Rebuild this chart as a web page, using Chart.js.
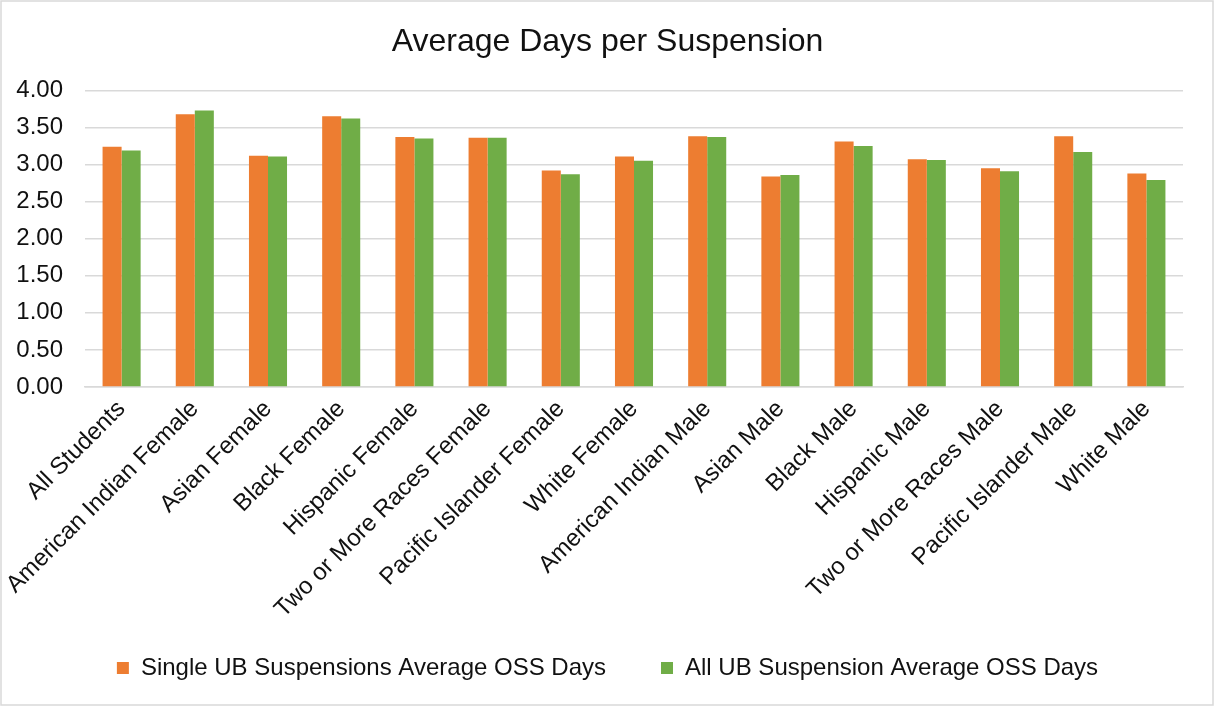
<!DOCTYPE html>
<html>
<head>
<meta charset="utf-8">
<script src="https://cdn.jsdelivr.net/npm/chart.js@4"></script>
<style>
  html, body { margin: 0; padding: 0; background: #fff; }
  #wrap { width: 1215px; height: 706px; }
</style>
</head>
<body>
<div id="wrap"><canvas id="chart"></canvas></div>
<script>
// data
const categories = ['All Students', 'American Indian Female', 'Asian Female', 'Black Female',
  'Hispanic Female', 'Two or More Races Female', 'Pacific Islander Female', 'White Female',
  'American Indian Male', 'Asian Male', 'Black Male', 'Hispanic Male',
  'Two or More Races Male', 'Pacific Islander Male', 'White Male'];
const singleUB = [3.24, 3.68, 3.12, 3.65, 3.37, 3.36, 2.92, 3.11, 3.38, 2.84, 3.31, 3.07, 2.95, 3.38, 2.88];
const allUB = [3.19, 3.73, 3.11, 3.62, 3.35, 3.36, 2.87, 3.05, 3.37, 2.86, 3.25, 3.06, 2.91, 3.17, 2.79];
const yTicks = ['0.00', '0.50', '1.00', '1.50', '2.00', '2.50', '3.00', '3.50', '4.00'];

const FONT = "'Liberation Sans', Arial, sans-serif";
const GRID = '#d9d9d9';
const LEGEND_GAP = 55;

// light frame around the whole chart, and center title/legend on the full width
const frame = {
  id: 'frame',
  afterLayout(chart) {
    if (chart.titleBlock) chart.titleBlock.left = 32;
    if (chart.legend) chart.legend.left = 32;
  },
  afterDraw(chart) {
    const c = chart.ctx;
    c.save();
    c.strokeStyle = GRID;
    c.lineWidth = 1.5;
    c.strokeRect(1, 1, chart.width - 3, chart.height - 2);
    c.restore();
  }
};

new Chart(document.getElementById('chart'), {
  type: 'bar',
  data: {
    labels: categories,
    datasets: [
      { label: 'Single UB Suspensions Average OSS Days', data: singleUB, backgroundColor: '#ED7D31' },
      { label: 'All UB Suspension Average OSS Days', data: allUB, backgroundColor: '#70AD47' }
    ]
  },
  options: {
    responsive: true,
    maintainAspectRatio: false,
    animation: false,
    datasets: { bar: { barPercentage: 1, categoryPercentage: 0.52 } },
    layout: { padding: { left: 0, right: 32, top: 0, bottom: 16 } },
    plugins: {
      title: {
        display: true,
        text: 'Average Days per Suspension',
        color: '#111',
        font: { family: FONT, size: 32, weight: 'normal' },
        padding: { top: 23, bottom: 29 }
      },
      legend: {
        position: 'bottom',
        labels: {
          color: '#111',
          font: { family: FONT, size: 24 },
          boxWidth: 12,
          boxHeight: 12,
          padding: LEGEND_GAP
        },
        // empty title only used to cancel the extra vertical room of the wide padding
        title: {
          display: true,
          text: '',
          font: { size: 1 },
          padding: { top: -(LEGEND_GAP - 10) - 1.2, bottom: 0 }
        }
      },
      tooltip: { enabled: false }
    },
    scales: {
      x: {
        grid: { display: false, drawTicks: false },
        border: { display: true, color: GRID, width: 1.5 },
        ticks: {
          color: '#111',
          font: { family: FONT, size: 24 },
          minRotation: 45,
          maxRotation: 45,
          autoSkip: false,
          padding: 8
        },
        afterFit(scale) { scale.height = 259; }
      },
      y: {
        min: 0,
        max: 4,
        grid: { color: GRID, lineWidth: 1.5, drawTicks: false },
        border: { display: false },
        ticks: {
          stepSize: 0.5,
          color: '#111',
          font: { family: FONT, size: 24 },
          padding: 22,
          callback: (v, i) => yTicks[i]
        },
        afterFit(scale) { scale.width = 85; }
      }
    }
  },
  plugins: [frame]
});
</script>
</body>
</html>
